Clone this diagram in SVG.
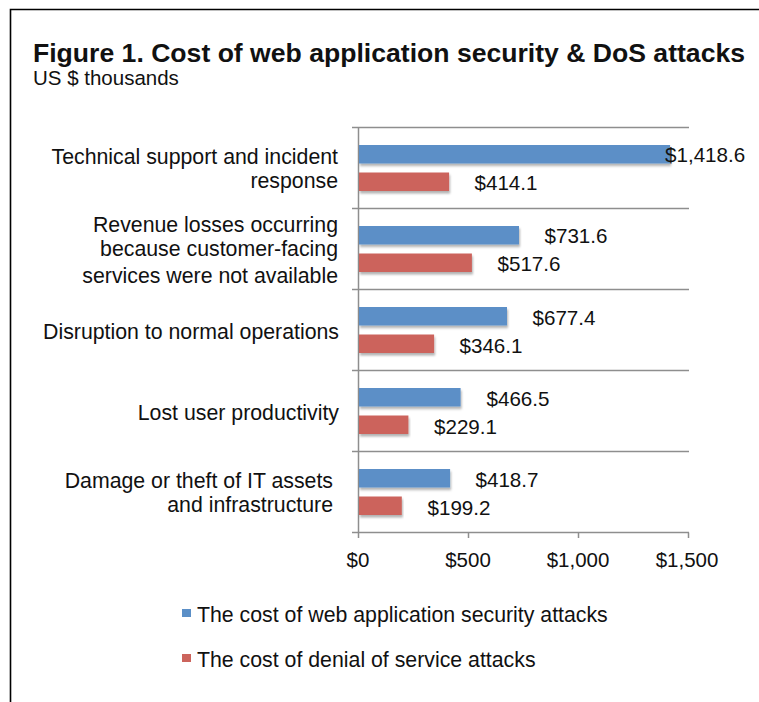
<svg xmlns="http://www.w3.org/2000/svg" width="759" height="702" viewBox="0 0 759 702">
  <defs>
    <filter id="sh" x="-5%" y="-30%" width="110%" height="170%">
      <feDropShadow dx="1" dy="2.5" stdDeviation="1" flood-color="#000" flood-opacity="0.3"/>
    </filter>
  </defs>
  <style>
    text { font-family: "Liberation Sans", Arial, sans-serif; fill: #111; }
    .title { font-size: 26px; font-weight: bold; }
    .sub { font-size: 20.5px; }
    .cat { font-size: 21.3px; text-anchor: end; }
    .val { font-size: 20.6px; }
    .tick { font-size: 20.5px; text-anchor: middle; }
    .leg { font-size: 21.3px; }
    .grid { stroke: #8e8e8e; stroke-width: 1.5; fill: none; }
    .blue { fill: #5b8fc7; filter: url(#sh); }
    .red { fill: #cc645c; filter: url(#sh); }
  </style>
  <rect width="759" height="702" fill="#fff"/>
  <path d="M10.5 702 V9.5 H759" stroke="#000" stroke-width="1.6" fill="none"/>

  <g id="title">
    <text class="title" x="33" y="62" textLength="712" lengthAdjust="spacingAndGlyphs">Figure 1. Cost of web application security &amp; DoS attacks</text>
    <text class="sub" x="33" y="85">US $ thousands</text>
  </g>

  <g id="axes">
    <path class="grid" d="M352 127.5 H689 M352 208.5 H689 M352 289.5 H689 M352 370.5 H689 M352 451.5 H689 M352 532.5 H689"/>
    <path class="grid" d="M358.5 127.5 V538 M468.5 532.5 V538 M578.5 532.5 V538 M688.5 532.5 V538"/>
    <text class="tick" x="358" y="567">$0</text>
    <text class="tick" x="468" y="567">$500</text>
    <text class="tick" x="578" y="567">$1,000</text>
    <text class="tick" x="687" y="567">$1,500</text>
  </g>

  <g id="cat1">
    <text class="cat" x="338" y="164">Technical support and incident</text>
    <text class="cat" x="338" y="188">response</text>
    <rect class="blue" x="359" y="145" width="311.1" height="18.5"/>
    <rect class="red" x="359" y="172.5" width="90.1" height="18.5"/>
    <text class="val" x="665" y="161.5">$1,418.6</text>
    <text class="val" x="474.5" y="190">$414.1</text>
  </g>

  <g id="cat2">
    <text class="cat" x="338" y="232">Revenue losses occurring</text>
    <text class="cat" x="338" y="256">because customer-facing</text>
    <text class="cat" x="338" y="282.5">services were not available</text>
    <rect class="blue" x="359" y="226" width="160" height="18.5"/>
    <rect class="red" x="359" y="253.5" width="112.9" height="18.5"/>
    <text class="val" x="544.5" y="242.5">$731.6</text>
    <text class="val" x="497.5" y="271">$517.6</text>
  </g>

  <g id="cat3">
    <text class="cat" x="339" y="339">Disruption to normal operations</text>
    <rect class="blue" x="359" y="307" width="148" height="18.5"/>
    <rect class="red" x="359" y="334.5" width="75.1" height="18.5"/>
    <text class="val" x="532.5" y="324.5">$677.4</text>
    <text class="val" x="459.5" y="353">$346.1</text>
  </g>

  <g id="cat4">
    <text class="cat" x="339" y="420">Lost user productivity</text>
    <rect class="blue" x="359" y="388" width="101.6" height="18.5"/>
    <rect class="red" x="359" y="415.5" width="49.4" height="18.5"/>
    <text class="val" x="486.5" y="405.5">$466.5</text>
    <text class="val" x="434" y="434">$229.1</text>
  </g>

  <g id="cat5">
    <text class="cat" x="333" y="488">Damage or theft of IT assets</text>
    <text class="cat" x="333" y="511.5">and infrastructure</text>
    <rect class="blue" x="359" y="469" width="91.1" height="18.5"/>
    <rect class="red" x="359" y="496.5" width="42.8" height="18.5"/>
    <text class="val" x="475.5" y="486.5">$418.7</text>
    <text class="val" x="427.5" y="515">$199.2</text>
  </g>

  <g id="legend">
    <rect x="182" y="609" width="9" height="8" fill="#5b8fc7"/>
    <text class="leg" x="197" y="622">The cost of web application security attacks</text>
    <rect x="182" y="654" width="9" height="8" fill="#cc645c"/>
    <text class="leg" x="197" y="667">The cost of denial of service attacks</text>
  </g>
</svg>
